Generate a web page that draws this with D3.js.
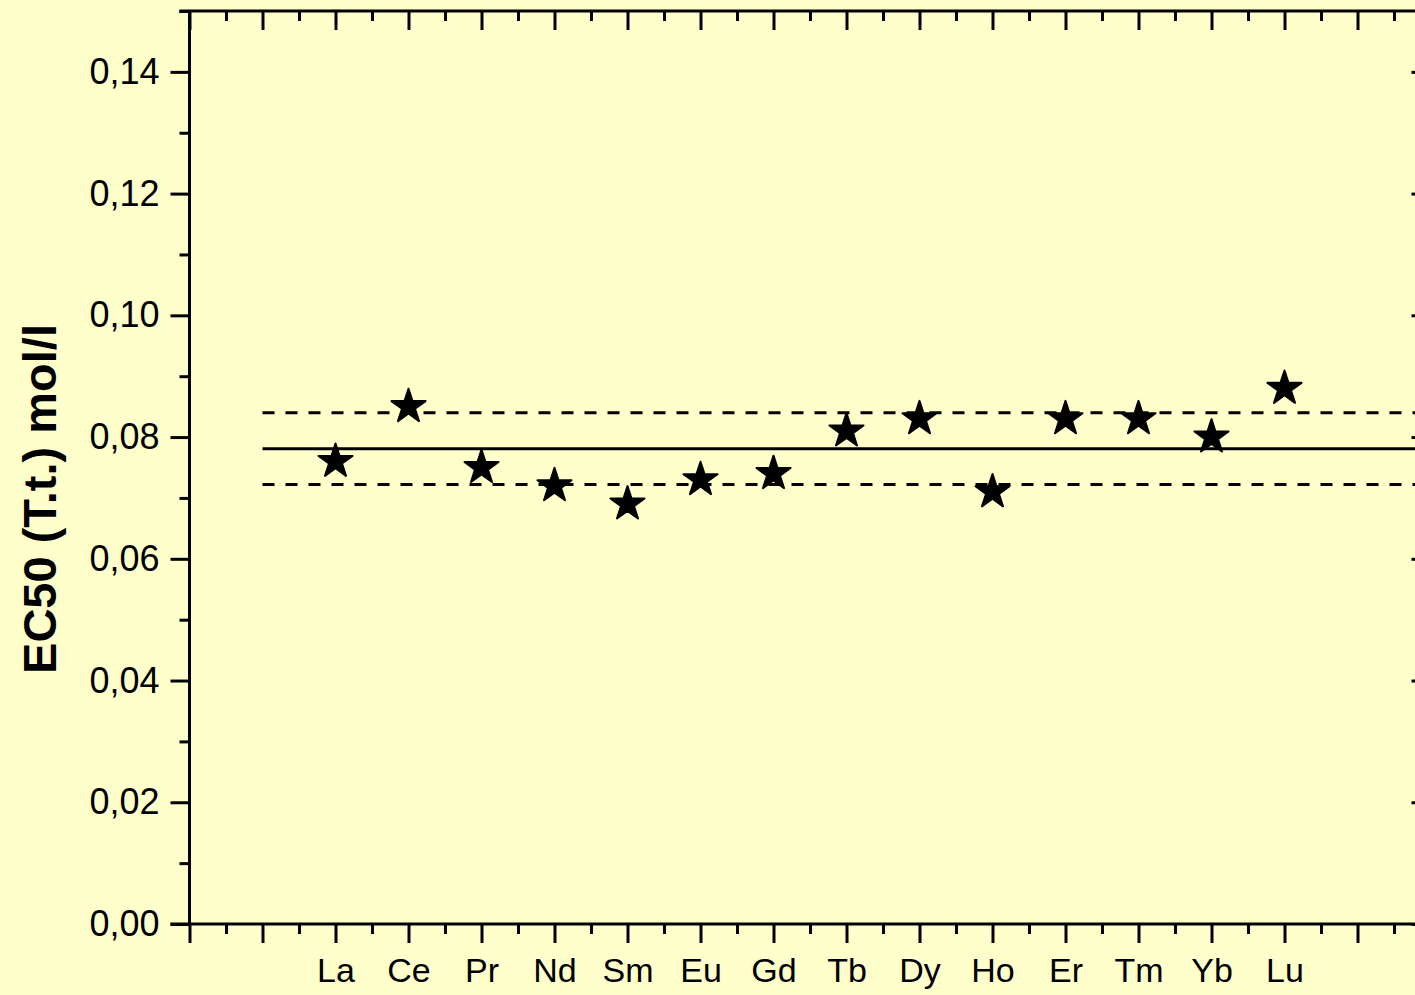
<!DOCTYPE html>
<html>
<head>
<meta charset="utf-8">
<script src="https://cdn.jsdelivr.net/npm/d3@7"></script>
<style>
  html, body { margin: 0; padding: 0; background: #FFFFCC; overflow: hidden; }
  svg { display: block; }
</style>
</head>
<body>
<div id="chart"></div>
<script>
// Data
const elements = ["La", "Ce", "Pr", "Nd", "Sm", "Eu", "Gd", "Tb", "Dy", "Ho", "Er", "Tm", "Yb", "Lu"];
const positions = [2, 3, 4, 5, 6, 7, 8, 9, 10, 11, 12, 13, 14, 15];
const ec50 = [0.076, 0.085, 0.075, 0.072, 0.069, 0.073, 0.074, 0.081, 0.083, 0.071, 0.083, 0.083, 0.080, 0.088];
const meanValue = 0.0781;
const bandValues = [0.0840, 0.0722];
const yTicks = [0, 0.02, 0.04, 0.06, 0.08, 0.10, 0.12, 0.14];

function chart() {
    const width = 1415;
    const height = 995;
    const font = "'Liberation Sans', Arial, Helvetica, sans-serif";

    // plot frame
    const left = 189.5, right = 1430.5, top = 11, bottom = 924;

    const x = d3.scaleLinear().domain([0, 17]).range([left, right]);
    const y = d3.scaleLinear().domain([0, 0.15]).range([bottom, top]);

    const svg = d3.create("svg")
        .attr("width", width)
        .attr("height", height)
        .attr("viewBox", [0, 0, width, height]);

    svg.append("rect")
        .attr("width", width)
        .attr("height", height)
        .attr("fill", "#FFFFCC");

    const majorX = d3.range(0, 18);
    const minorX = d3.range(0, 17).map(d => d + 0.5);
    const minorY = d3.range(0, 16).map(d => d / 100).filter(d => Math.round(d * 100) % 2 === 1);

    function styleAxis(g) {
        g.selectAll("path").remove();
        g.selectAll("line").attr("stroke", "#000").attr("stroke-width", 3);
        g.selectAll("text").attr("fill", "#000").attr("font-family", font);
    }

    // bottom axis, major with element names
    const labelOf = d3.rollup(positions.map((p, i) => [p, elements[i]]), v => v[0][1], d => d[0]);
    svg.append("g")
        .attr("transform", `translate(0,${bottom})`)
        .call(d3.axisBottom(x).tickValues(majorX).tickSize(19).tickPadding(15)
            .tickFormat(d => labelOf.get(d) || ""))
        .call(styleAxis)
        .call(g => g.selectAll("text").attr("font-size", 34));
    svg.append("g")
        .attr("transform", `translate(0,${bottom})`)
        .call(d3.axisBottom(x).tickValues(minorX).tickSize(10).tickFormat(""))
        .call(styleAxis);

    // top axis, ticks inward
    svg.append("g")
        .attr("transform", `translate(0,${top})`)
        .call(d3.axisBottom(x).tickValues(majorX).tickSize(19).tickFormat(""))
        .call(styleAxis);
    svg.append("g")
        .attr("transform", `translate(0,${top})`)
        .call(d3.axisBottom(x).tickValues(minorX).tickSize(10).tickFormat(""))
        .call(styleAxis);

    // left axis
    const comma = d3.formatLocale({decimal: ",", thousands: ".", grouping: [3], currency: ["", ""]}).format(".2f");
    svg.append("g")
        .attr("transform", `translate(${left},0)`)
        .call(d3.axisLeft(y).tickValues(yTicks).tickSize(19).tickPadding(11).tickFormat(comma))
        .call(styleAxis)
        .call(g => g.selectAll("text").attr("font-size", 36));
    svg.append("g")
        .attr("transform", `translate(${left},0)`)
        .call(d3.axisLeft(y).tickValues(minorY.concat([0.15])).tickSize(10).tickFormat(""))
        .call(styleAxis);

    // right axis, ticks inward
    svg.append("g")
        .attr("transform", `translate(${right},0)`)
        .call(d3.axisLeft(y).tickValues(yTicks).tickSize(19).tickFormat(""))
        .call(styleAxis);
    svg.append("g")
        .attr("transform", `translate(${right},0)`)
        .call(d3.axisLeft(y).tickValues(minorY).tickSize(10).tickFormat(""))
        .call(styleAxis);

    // frame lines
    const frame = svg.append("g").attr("stroke", "#000").attr("stroke-width", 3);
    frame.append("line").attr("x1", left).attr("x2", left).attr("y1", top).attr("y2", bottom);
    frame.append("line").attr("x1", right).attr("x2", right).attr("y1", top).attr("y2", bottom);
    frame.append("line").attr("x1", left - 10).attr("x2", right).attr("y1", top).attr("y2", top);
    frame.append("line").attr("x1", left - 19).attr("x2", right).attr("y1", bottom).attr("y2", bottom);

    // mean line and band
    svg.append("line")
        .attr("x1", x(1)).attr("x2", x(17))
        .attr("y1", y(meanValue)).attr("y2", y(meanValue))
        .attr("stroke", "#000").attr("stroke-width", 3);
    svg.append("g")
        .selectAll("line")
        .data(bandValues)
        .join("line")
        .attr("x1", x(1)).attr("x2", x(17))
        .attr("y1", d => y(d)).attr("y2", d => y(d))
        .attr("stroke", "#000").attr("stroke-width", 3)
        .attr("stroke-dasharray", "12,11");

    // stars
    const star = d3.symbol(d3.symbolStar, 360);
    svg.append("g")
        .selectAll("path")
        .data(ec50)
        .join("path")
        .attr("d", star)
        .attr("transform", (d, i) => `translate(${x(positions[i])},${y(d)})`)
        .attr("fill", "#000")
        .attr("stroke", "#000")
        .attr("stroke-width", 2)
        .attr("stroke-linejoin", "round");

    // y title
    svg.append("text")
        .attr("transform", `translate(56,${(323 + 675) / 2}) rotate(-90)`)
        .attr("text-anchor", "middle")
        .attr("font-family", font)
        .attr("font-weight", "bold")
        .attr("font-size", 47)
        .attr("fill", "#000")
        .text("EC50 (T.t.) mol/l");

    return svg.node();
}

document.getElementById("chart").appendChild(chart());
</script>
</body>
</html>
